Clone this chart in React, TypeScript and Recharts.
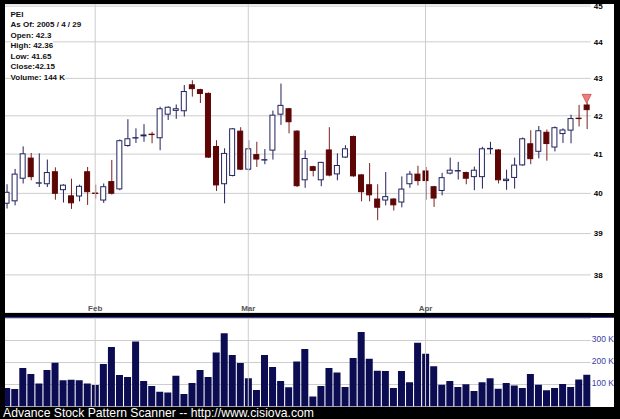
import { ComposedChart, BarChart, Bar, Scatter, XAxis, YAxis, CartesianGrid, ReferenceLine } from 'recharts';

// trading days, 2005-01-14 .. 2005-04-29
const dates = [
  '01-14', '01-18', '01-19', '01-20', '01-21', '01-24', '01-25', '01-26', '01-27', '01-28', '01-31',
  '02-01', '02-02', '02-03', '02-04', '02-07', '02-08', '02-09', '02-10', '02-11', '02-14', '02-15',
  '02-16', '02-17', '02-18', '02-22', '02-23', '02-24', '02-25', '02-28',
  '03-01', '03-02', '03-03', '03-04', '03-07', '03-08', '03-09', '03-10', '03-11', '03-14', '03-15',
  '03-16', '03-17', '03-18', '03-21', '03-22', '03-23', '03-24', '03-28', '03-29', '03-30', '03-31',
  '04-01', '04-04', '04-05', '04-06', '04-07', '04-08', '04-11', '04-12', '04-13', '04-14', '04-15',
  '04-18', '04-19', '04-20', '04-21', '04-22', '04-25', '04-26', '04-27', '04-28', '04-29',
];

const opens = [
  39.74, 39.8, 40.37, 40.91, 40.26, 40.23, 40.56, 40.08, 39.95, 39.92, 40.56,
  40.02, 39.82, 40.31, 40.1, 41.21, 41.42, 41.46, 41.53, 41.41, 42.03, 42.13,
  42.12, 42.84, 42.71, 42.61, 41.21, 40.23, 40.44, 41.61,
  40.6, 41.0, 40.85, 41.09, 42.03, 42.2, 41.61, 40.33, 40.69, 40.33, 41.12,
  40.48, 40.91, 41.47, 40.48, 40.23, 39.87, 39.82, 39.87, 39.77, 40.23, 40.5,
  40.58, 40.18, 40.06, 40.5, 40.57, 40.54, 40.41, 40.41, 41.14, 41.12, 40.31,
  40.39, 40.71, 41.28, 41.06, 41.58, 41.17, 41.52, 41.61, 41.95, 42.3,
];
const highs = [
  40.23, 40.62, 41.2, 41.03, 41.02, 40.86, 40.66, 40.23, 40.37, 40.22, 40.67,
  40.22, 40.25, 40.85, 41.38, 41.91, 41.67, 41.78, 41.58, 42.24, 42.25, 42.3,
  42.82, 42.95, 42.72, 42.62, 41.36, 41.15, 41.68, 41.7,
  41.36, 41.32, 41.13, 42.14, 42.86, 42.21, 41.62, 41.1, 40.7, 40.8, 41.7,
  41.02, 41.23, 41.48, 40.49, 40.77, 40.23, 40.54, 39.88, 40.43, 40.57, 40.7,
  40.67, 40.19, 40.52, 40.91, 40.8, 40.55, 40.68, 41.19, 41.32, 41.13, 40.6,
  40.91, 41.43, 41.62, 41.73, 41.64, 41.72, 41.67, 42.03, 42.29, 42.36,
];
const lows = [
  39.62, 39.7, 40.25, 40.33, 40.16, 40.16, 39.84, 39.77, 39.61, 39.8, 39.71,
  39.87, 39.76, 39.97, 40.08, 41.19, 41.29, 41.32, 41.28, 41.1, 41.89, 41.92,
  41.98, 42.51, 42.34, 40.9, 40.06, 39.75, 40.43, 40.59,
  40.58, 40.67, 40.74, 40.86, 41.76, 41.54, 40.16, 40.14, 40.43, 40.18, 40.43,
  40.33, 40.9, 40.42, 39.8, 39.8, 39.33, 39.7, 39.57, 39.65, 40.14, 40.2,
  39.84, 39.66, 39.95, 40.48, 40.35, 40.23, 40.08, 40.12, 41.0, 40.25, 40.09,
  40.12, 40.7, 40.74, 40.89, 40.83, 41.07, 41.29, 41.28, 41.72, 41.65,
];
const closes = [
  40.04, 40.5, 41.02, 40.41, 40.28, 40.54, 39.99, 40.22, 39.75, 40.19, 40.03,
  40.0, 40.18, 39.99, 41.36, 41.41, 41.44, 41.51, 41.51, 42.2, 42.24, 42.2,
  42.66, 42.71, 42.58, 40.91, 40.2, 41.03, 41.67, 40.6,
  41.15, 40.86, 40.87, 42.03, 42.29, 41.83, 40.18, 40.9, 40.57, 40.8, 40.45,
  40.72, 41.15, 40.43, 40.03, 39.95, 39.64, 39.93, 39.7, 40.12, 40.5, 40.31,
  40.31, 39.87, 40.41, 40.6, 40.59, 40.37, 40.6, 41.15, 41.16, 40.33, 40.37,
  40.73, 41.41, 40.87, 41.62, 41.26, 41.7, 41.64, 41.94, 41.93, 42.15,
];
// volume in thousands of shares
const volumes = [
  84, 80, 175, 148, 105, 166, 199, 119, 122, 119, 105,
  98, 193, 270, 143, 134, 295, 116, 93, 67, 64, 140,
  57, 107, 166, 134, 245, 333, 234, 198,
  128, 75, 234, 180, 116, 87, 205, 261, 45, 93, 175,
  154, 89, 220, 339, 217, 163, 161, 84, 161, 110, 290,
  240, 183, 99, 116, 89, 101, 70, 110, 128, 81, 107,
  96, 84, 148, 99, 74, 84, 102, 89, 123, 144,
];

const signalDate = '04-29';
const signalValue = 42.45;

const monthDates = ['02-01', '03-01', '04-01'];
const monthLabels = ['Feb', 'Mar', 'Apr'];
const priceTicks = [38, 39, 40, 41, 42, 43, 44, 45];
const volumeTicks = [100000, 200000, 300000];

const infoLines = ['PEI', 'As Of: 2005 / 4 / 29', 'Open: 42.3', 'High: 42.36', 'Low: 41.65', 'Close:42.15', 'Volume: 144 K'];

const NAVY = '#22225e';
const MAROON = '#5e0505';
const MAROON_WICK = '#7a2323';
const GRID = '#cdcdcd';
const FONT = '"Liberation Sans", Arial, sans-serif';

const data = dates.map((d, i) => ({
  date: d,
  wick: [lows[i], highs[i]],
  body: [Math.min(opens[i], closes[i]), Math.max(opens[i], closes[i])],
  up: closes[i] >= opens[i],
  volume: volumes[i] * 1000,
  signal: d === signalDate ? signalValue : null,
}));

const Wick = (props: any) => {
  const { x, y, width, height, payload } = props;
  return <rect x={x} y={y} width={width} height={Math.max(height, 1)} fill={payload.up ? NAVY : MAROON_WICK} />;
};

const Body = (props: any) => {
  const { x, y, width, height, payload } = props;
  return (
    <rect
      x={x + 0.5}
      y={y + 0.5}
      width={width - 1}
      height={Math.max(height - 1, 0.4)}
      fill={payload.up ? '#ffffff' : MAROON}
      stroke={payload.up ? NAVY : MAROON}
      strokeWidth={1}
    />
  );
};

const Marker = (props: any) => {
  const { cx, cy } = props;
  if (cy == null || isNaN(cy)) return null;
  return (
    <polygon
      points={`${cx - 4.5},${cy - 4.5} ${cx + 4.5},${cy - 4.5} ${cx},${cy + 4.5}`}
      fill="#f27c7c"
      stroke="#c24a4a"
      strokeWidth={0.8}
    />
  );
};

const PriceTick = (props: any) => {
  const { x, y, payload } = props;
  return (
    <text x={x} y={y} dy="0.355em" textAnchor="start" fontSize={8} fontWeight="bold" fill="#000" fontFamily={FONT}>
      {payload.value}
    </text>
  );
};

const VolumeTick = (props: any) => {
  const { x, y, payload } = props;
  return (
    <text x={x} y={y - 2} dy="0.355em" textAnchor="start" fontSize={8.5} fill="#3b3ba6" fontFamily={FONT}>
      {`${payload.value / 1000} K`}
    </text>
  );
};

export default function App() {
  return (
    <div style={{ position: 'fixed', left: 0, top: 0, width: 620, height: 419, background: '#000000', overflow: 'hidden' }}>
      <div style={{ position: 'absolute', left: 5, top: 4, width: 609, height: 309, background: '#fff', overflow: 'hidden' }}>
        <div style={{ position: 'absolute', left: -5, top: -4 }}>
          <ComposedChart width={620} height={313} data={data} margin={{ top: 4, right: 0, bottom: 0, left: 2.54 }}>
            <XAxis xAxisId="w" dataKey="date" hide />
            <XAxis xAxisId="b" dataKey="date" hide />
            <YAxis
              orientation="right"
              scale="log"
              domain={[37.1, 45.06]}
              allowDataOverflow
              ticks={priceTicks}
              interval={0}
              width={29.3}
              axisLine={false}
              tickLine={false}
              tickSize={0}
              tickMargin={3}
              tick={PriceTick}
            />
            <CartesianGrid xAxisId="w" vertical={false} stroke={GRID} />
            {monthDates.map((m, i) => (
              <ReferenceLine
                key={m}
                xAxisId="w"
                x={m}
                stroke={GRID}
                label={{ value: monthLabels[i], position: 'insideBottom', offset: 2, fill: '#555', fontSize: 8, fontWeight: 'bold', fontFamily: FONT }}
              />
            ))}
            <Bar xAxisId="w" dataKey="wick" barSize={1} shape={Wick} isAnimationActive={false} />
            <Bar xAxisId="b" dataKey="body" barSize={6} shape={Body} isAnimationActive={false} />
            <Scatter xAxisId="w" dataKey="signal" shape={Marker} isAnimationActive={false} />
          </ComposedChart>
        </div>
        <div style={{ position: 'absolute', left: 5.5, top: 5.5, fontFamily: FONT, fontSize: 8, fontWeight: 'bold', lineHeight: '10.5px', color: '#111' }}>
          {infoLines.map((t) => (
            <div key={t} style={{ background: '#fff', width: 'fit-content' }}>{t}</div>
          ))}
        </div>
      </div>
      <div style={{ position: 'absolute', left: 5, top: 317, width: 609, height: 1, background: '#3a3ab4' }} />
      <div style={{ position: 'absolute', left: 5, top: 318, width: 609, height: 89, background: '#fff', overflow: 'hidden' }}>
        <div style={{ position: 'absolute', left: -5, top: 0 }}>
          <BarChart width={620} height={89} data={data} margin={{ top: 0.5, right: 0, bottom: 0.5, left: 2.54 }} barCategoryGap="8%">
            <XAxis dataKey="date" hide />
            <YAxis
              orientation="right"
              domain={[0, 400000]}
              allowDataOverflow
              ticks={volumeTicks}
              interval={0}
              width={29.3}
              axisLine={false}
              tickLine={false}
              tickSize={0}
              tickMargin={1}
              tick={VolumeTick}
            />
            <CartesianGrid vertical={false} stroke={GRID} />
            {monthDates.map((m) => (
              <ReferenceLine key={m} x={m} stroke={GRID} />
            ))}
            <Bar dataKey="volume" fill="#0c0c52" isAnimationActive={false} />
          </BarChart>
        </div>
      </div>
      <div style={{ position: 'absolute', left: 3, top: 405.7, fontFamily: FONT, fontSize: 12.2, lineHeight: '14px', color: '#fff', whiteSpace: 'nowrap' }}>
        Advance Stock Pattern Scanner -- http://www.cisiova.com
      </div>
    </div>
  );
}
